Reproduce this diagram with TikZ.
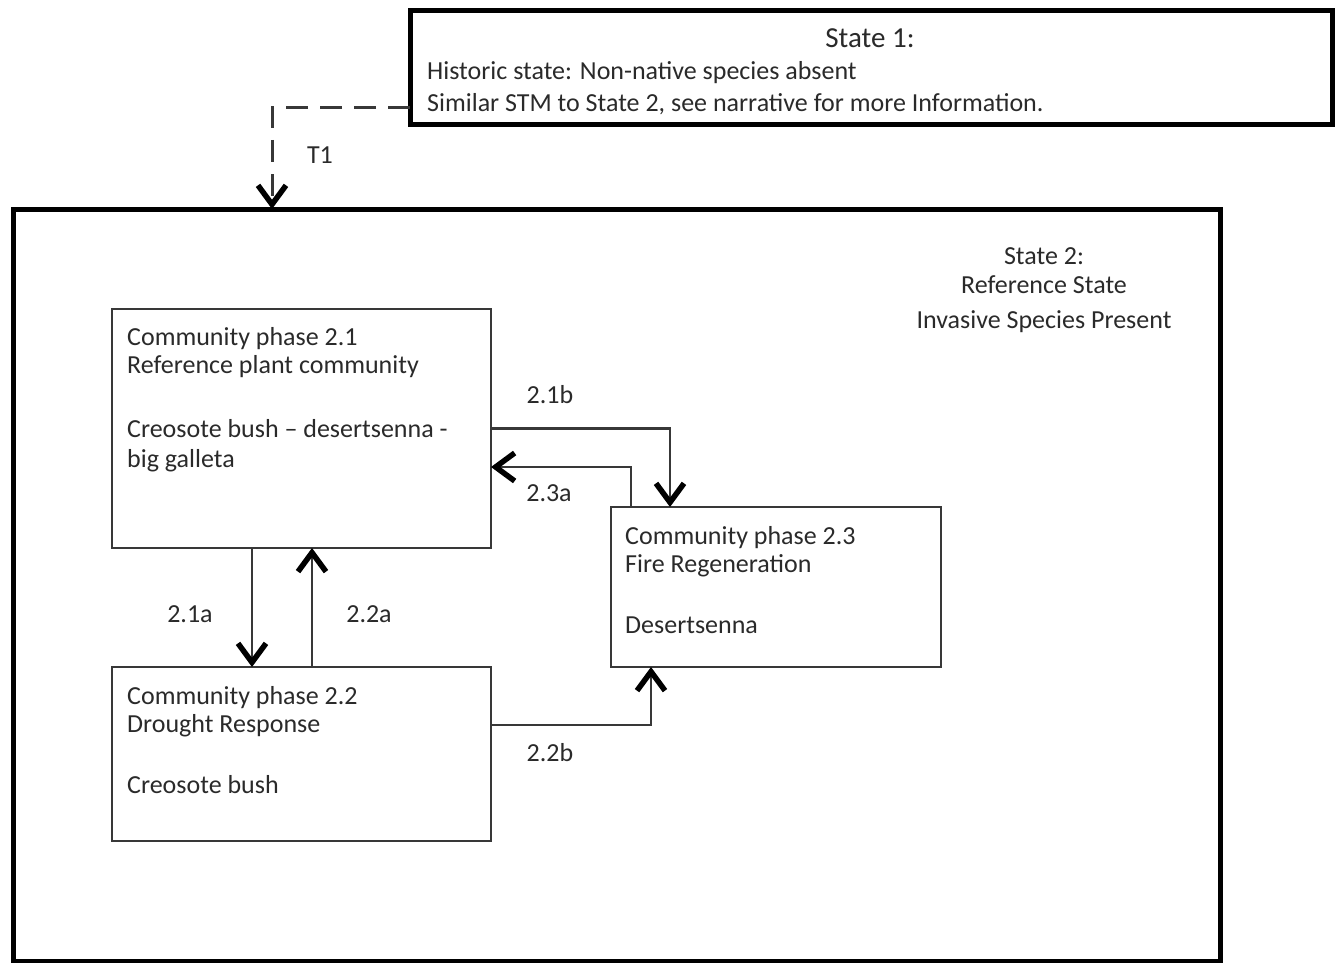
\documentclass[tikz,border=0pt]{standalone}
\usepackage{fontspec}
\setmainfont{Carlito}
\usetikzlibrary{arrows.meta}
\definecolor{txtc}{HTML}{2A2A2A}
\definecolor{lnc}{HTML}{383838}
\begin{document}
\begin{tikzpicture}[x=1pt,y=-1pt,
  statebox/.style={draw=black,line width=5pt,inner sep=0pt,outer sep=0pt,anchor=north west},
  phasebox/.style={draw=lnc,line width=2.5pt,inner sep=0pt,outer sep=0pt,anchor=north west},
  lbl/.style={text=txtc,font=\fontsize{26}{29}\selectfont,inner sep=0pt,anchor=base west},
  ctr/.style={text=txtc,font=\fontsize{26}{29}\selectfont,inner sep=0pt,anchor=base},
  arr/.style={draw=lnc,line width=2.5pt,-{Straight Barb[length=19pt,width=28pt,line width=5.5pt,color=black]}},
  tarr/.style={draw=lnc,line width=3pt,dash pattern=on 22pt off 12pt,-{Straight Barb[length=19pt,width=28pt,line width=5.5pt,color=black]}},
]
\useasboundingbox (0,0) rectangle (1338,963);
% states
\node[statebox,minimum width=922pt,minimum height=114pt] (s1) at (410,11) {};
\node[statebox,minimum width=1207pt,minimum height=752pt] (s2) at (13,209) {};
\node[ctr,font=\fontsize{29}{30}\selectfont] (s1t) at (870,48) {State 1:};
\node[lbl] (s1a) at (427,80) {Historic state: Non-native species absent};
\node[lbl] (s1b) at (427,112) {Similar STM to State 2, see narrative for more Information.};
\node[ctr] (s2t) at (1044,264) {State 2:};
\node[ctr] (s2r) at (1044,293) {Reference State};
\node[ctr] (s2i) at (1044,328) {Invasive Species Present};
% phases
\node[phasebox,minimum width=379pt,minimum height=239pt] (p21) at (112,309) {};
\node[phasebox,minimum width=379pt,minimum height=174pt] (p22) at (112,667) {};
\node[phasebox,minimum width=330pt,minimum height=160pt] (p23) at (611,507) {};
\node[lbl] (t21a) at (127,345) {Community phase 2.1};
\node[lbl] (t21b) at (127,373) {Reference plant community};
\node[lbl] (t21c) at (127,437) {Creosote bush -- desertsenna -};
\node[lbl] (t21d) at (127,467) {big galleta};
\node[lbl] (t22a) at (127,704) {Community phase 2.2};
\node[lbl] (t22b) at (127,732) {Drought Response};
\node[lbl] (t22c) at (127,793) {Creosote bush};
\node[lbl] (t23a) at (625,544) {Community phase 2.3};
\node[lbl] (t23b) at (625,572) {Fire Regeneration};
\node[lbl] (t23c) at (625,633) {Desertsenna};
% transitions
\draw[tarr] ([yshift=-40pt]s1.west) -| ([xshift=259pt]s2.north west);
\draw[arr] ([xshift=140pt]p21.south west) -- ([xshift=140pt]p22.north west);
\draw[arr] ([xshift=200pt]p22.north west) -- ([xshift=200pt]p21.south west);
\draw[arr] (p21.east) -| ([xshift=59pt]p23.north west);
\draw[arr] ([xshift=20pt]p23.north west) |- ([yshift=-38.5pt]p21.east);
\draw[arr] ([yshift=29pt]p22.east) -| ([xshift=40pt]p23.south west);
% labels
\node[ctr] (lT1) at (320,163) {T1};
\node[ctr] (l21a) at (190,622) {2.1a};
\node[ctr] (l22a) at (369,622) {2.2a};
\node[ctr] (l21b) at (550,403) {2.1b};
\node[ctr] (l23a) at (549,501) {2.3a};
\node[ctr] (l22b) at (550,761) {2.2b};
\end{tikzpicture}
\end{document}
